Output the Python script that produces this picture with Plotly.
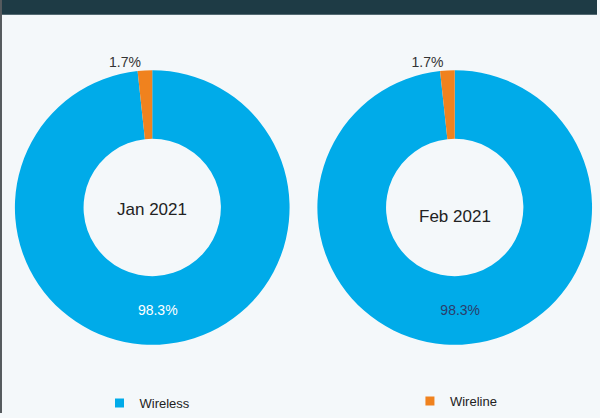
import plotly.graph_objects as go

# Line-type share by month
categories = ["Wireless", "Wireline"]
months = ["Jan 2021", "Feb 2021"]
jan_share = [98.3, 1.7]
feb_share = [98.3, 1.7]

colors = ["#00abe9", "#f0821e"]
W, H = 600, 418
FONT = "Liberation Sans, Arial"

fig = go.Figure()

def add_donut(values, month, cx, cy_label, inner_color):
    r = 139
    cy = 210
    fig.add_trace(go.Pie(
        labels=categories,
        values=values,
        hole=0.5,
        sort=False,
        direction="clockwise",
        rotation=0,
        marker=dict(colors=colors, line=dict(width=0)),
        texttemplate=[f"{v}%" for v in values],
        textinfo="text",
        textposition=["inside", "outside"],
        insidetextorientation="horizontal",
        insidetextfont=dict(color=inner_color, size=14, family=FONT),
        outsidetextfont=dict(color="#333333", size=14, family=FONT),
        domain=dict(x=[(cx - r) / W, (cx + r) / W],
                    y=[(H - cy - r) / H, (H - cy + r) / H]),
        showlegend=False,
        hoverinfo="label+percent",
    ))
    fig.add_annotation(
        text=month, xref="paper", yref="paper",
        x=cx / W, y=(H - cy_label) / H, showarrow=False,
        xanchor="center", yanchor="middle",
        font=dict(size=17, color="#222222", family=FONT),
    )

add_donut(jan_share, months[0], 153, 212, "#ffffff")
add_donut(feb_share, months[1], 457, 219, "#2b3d6b")

# Legend keys, one per category, each in its own legend box
for name, color, leg in zip(categories, colors, ["legend", "legend2"]):
    fig.add_trace(go.Scatter(
        x=[None], y=[None], mode="markers", name=name,
        marker=dict(symbol="square", size=9, color=color),
        legend=leg, showlegend=True, hoverinfo="skip",
    ))

legend_style = dict(
    orientation="h",
    yanchor="middle",
    itemwidth=30,
    font=dict(size=13, color="#222222", family=FONT),
    bgcolor="rgba(0,0,0,0)",
)

fig.update_layout(
    width=W, height=H,
    margin=dict(l=0, r=0, t=0, b=0),
    paper_bgcolor="#f4f8fa",
    plot_bgcolor="rgba(0,0,0,0)",
    font=dict(family=FONT, size=13, color="#333333"),
    xaxis=dict(visible=False),
    yaxis=dict(visible=False),
    legend=dict(x=100 / W, xanchor="left", y=(H - 408) / H, **legend_style),
    legend2=dict(x=412 / W, xanchor="left", y=(H - 406) / H, **legend_style),
    shapes=[
        dict(type="rect", xref="paper", yref="paper",
             x0=0, x1=1, y0=1 - 15 / H, y1=1,
             fillcolor="#1e3b45", line=dict(width=0), layer="below"),
        dict(type="rect", xref="paper", yref="paper",
             x0=0, x1=2 / W, y0=0, y1=1,
             fillcolor="#555b5e", line=dict(width=0), layer="below"),
    ],
)

fig.write_html("out.html")
